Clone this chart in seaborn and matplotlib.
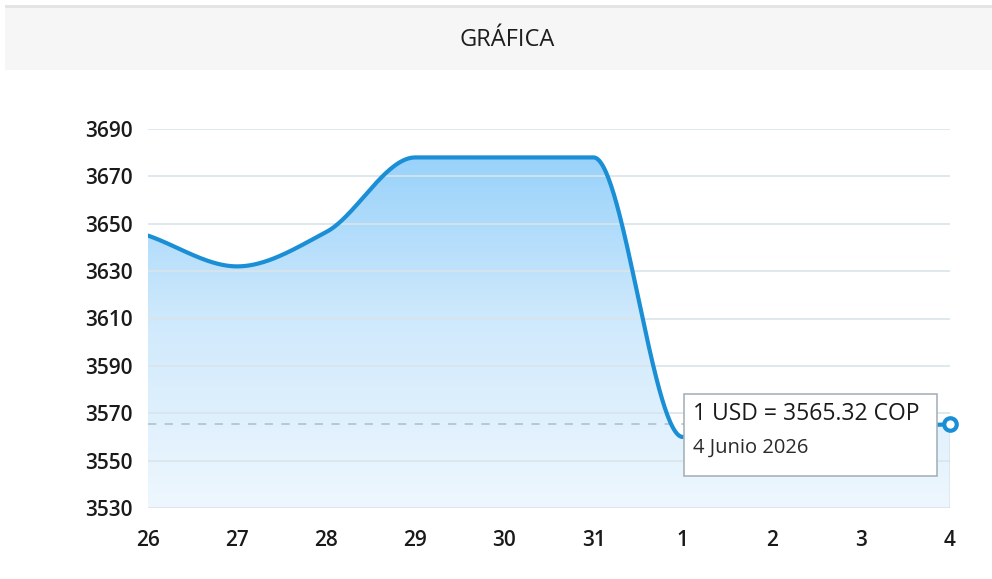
import numpy as np
import pandas as pd
import matplotlib
matplotlib.use("Agg")
import matplotlib.pyplot as plt
import seaborn as sns
from matplotlib.colors import LinearSegmentedColormap
from matplotlib.patches import Rectangle, Polygon

# data
days = ["26", "27", "28", "29", "30", "31", "1", "2", "3", "4"]
rate = [3645, 3632, 3646.5, 3678, 3678, 3678, 3560, 3562, 3564, 3565.32]
last_rate = 3565.32
tip_line1 = "1 USD = 3565.32 COP"
tip_line2 = "4 Junio 2026"
yticks = [3530, 3550, 3570, 3590, 3610, 3630, 3650, 3670, 3690]

line_col = "#1b8fd6"


def pchip(x, y, xs):
    # monotone cubic, only used to draw a smooth line through the points
    x = np.asarray(x, float); y = np.asarray(y, float)
    h = np.diff(x); d = np.diff(y) / h
    n = len(x)
    m = np.zeros(n)
    m[0], m[-1] = d[0], d[-1]
    for k in range(1, n - 1):
        if d[k - 1] * d[k] <= 0:
            m[k] = 0
        else:
            w1 = 2 * h[k] + h[k - 1]; w2 = h[k] + 2 * h[k - 1]
            m[k] = (w1 + w2) / (w1 / d[k - 1] + w2 / d[k])
    idx = np.clip(np.searchsorted(x, xs) - 1, 0, n - 2)
    t = (xs - x[idx]) / h[idx]
    h00 = 2*t**3 - 3*t**2 + 1; h10 = t**3 - 2*t**2 + t
    h01 = -2*t**3 + 3*t**2; h11 = t**3 - t**2
    return h00*y[idx] + h10*h[idx]*m[idx] + h01*y[idx+1] + h11*h[idx]*m[idx+1]


df = pd.DataFrame({"pos": np.arange(len(days)), "rate": rate})
xs = np.linspace(0, len(days) - 1, 600)
ys = pchip(df.pos, df.rate, xs)
smooth = pd.DataFrame({"x": xs, "y": ys})

sns.set_theme(style="white")
plt.rcParams["font.family"] = ["Open Sans", "DejaVu Sans"]

fig = plt.figure(figsize=(9.92, 5.79), dpi=100)
fig.patch.set_facecolor("white")

# header band
fig.patches.append(Rectangle((5/992, 1 - 70/579), 1, 62/579, transform=fig.transFigure,
                             facecolor="#f6f6f6", edgecolor="none", zorder=0))
fig.patches.append(Rectangle((5/992, 1 - 8/579), 1, 3/579, transform=fig.transFigure,
                             facecolor="#e4e4e4", edgecolor="none", zorder=0))
fig.text(507/992, 1 - 40/579, "GRÁFICA", ha="center", va="center",
         fontsize=17, color="#1e1e1e")

ax = fig.add_axes([148/992, 1 - 508/579, 802/992, 379/579])
ax.set_xlim(0, len(days) - 1)
ax.set_ylim(3530, 3690)

# gradient fill under the curve
cmap = LinearSegmentedColormap.from_list("g", ["#eef7fe", "#cfe9fc", "#8fcefa"])
grad = np.linspace(0, 1, 256).reshape(-1, 1)
im = ax.imshow(grad, extent=[0, len(days) - 1, 3530, 3690], origin="lower",
               aspect="auto", cmap=cmap, zorder=1)
verts = np.column_stack([np.r_[xs, xs[-1], xs[0]], np.r_[ys, 3530, 3530]])
poly = Polygon(verts, closed=True, facecolor="none", edgecolor="none")
ax.add_patch(poly)
im.set_clip_path(poly)

for yv in yticks:
    ax.axhline(yv, color="#d9e4ea", lw=1.2, zorder=2)

ax.axhline(last_rate, color="#b3c0c8", lw=1.2, ls=(0, (5, 5)), zorder=2)
ax.plot([len(days) - 1, len(days) - 1], [3530, last_rate], color="#a9b4ba", lw=1, zorder=2)

sns.lineplot(data=smooth, x="x", y="y", ax=ax, color=line_col, lw=3, zorder=4)
ax.plot(df.pos.iloc[-1], df.rate.iloc[-1], "o", ms=9, mfc="white", mec=line_col,
        mew=3, zorder=6, clip_on=False)

# tooltip
tip = Rectangle((6.02, 3543.5), 2.83, 34.5, facecolor="white", edgecolor="#a7b3ba",
                lw=1.2, zorder=5)
ax.add_patch(tip)
ax.text(6.12, 3569.5, tip_line1, ha="left", va="center", fontsize=16.5,
        color="#1a1a1a", zorder=6)
ax.text(6.12, 3555.5, tip_line2, ha="left", va="center", fontsize=14.5,
        color="#2a2a2a", zorder=6)

ax.set_xticks(df.pos)
ax.set_xticklabels(days)
ax.set_yticks(yticks)
ax.tick_params(axis="x", pad=16, labelsize=15, length=0)
ax.tick_params(axis="y", pad=11, labelsize=15, length=0)
for lab in ax.get_xticklabels() + ax.get_yticklabels():
    lab.set_fontweight("semibold")
    lab.set_color("#1a1a1a")
ax.set_xlabel("")
ax.set_ylabel("")
for s in ax.spines.values():
    s.set_visible(False)
ax.set_facecolor("none")

fig.savefig("out.png", dpi=100)
